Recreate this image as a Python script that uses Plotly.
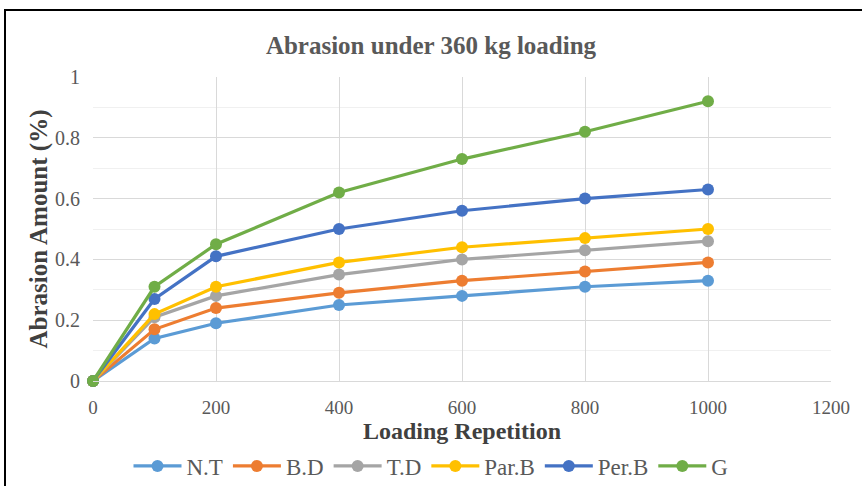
import plotly.graph_objects as go

x_vals = [0, 100, 200, 400, 600, 800, 1000]
series_names = ["N.T", "B.D", "T.D", "Par.B", "Per.B", "G"]
nt = [0, 0.14, 0.19, 0.25, 0.28, 0.31, 0.33]
bd = [0, 0.17, 0.24, 0.29, 0.33, 0.36, 0.39]
td = [0, 0.21, 0.28, 0.35, 0.40, 0.43, 0.46]
parb = [0, 0.22, 0.31, 0.39, 0.44, 0.47, 0.50]
perb = [0, 0.27, 0.41, 0.50, 0.56, 0.60, 0.63]
g = [0, 0.31, 0.45, 0.62, 0.73, 0.82, 0.92]
colors = ["#5B9BD5", "#ED7D31", "#A5A5A5", "#FFC000", "#4472C4", "#70AD47"]

fig = go.Figure()
for name, ys, c in zip(series_names, [nt, bd, td, parb, perb, g], colors):
    fig.add_trace(go.Scatter(x=x_vals, y=ys, name=name, mode="lines+markers",
                             cliponaxis=False,
                             line=dict(color=c, width=3.2), marker=dict(color=c, size=12)))

serif = "Liberation Serif, Times New Roman, serif"
fig.update_layout(
    width=862, height=486,
    margin=dict(l=93, r=31, t=77, b=105, autoexpand=False),
    paper_bgcolor="white", plot_bgcolor="white",
    title=dict(text="<b>Abrasion under 360 kg loading</b>", x=0.5, xanchor="center",
               y=1 - 45 / 486, yanchor="middle",
               font=dict(family=serif, size=25, color="#595959")),
    font=dict(family=serif, color="#595959"),
    xaxis=dict(range=[0, 1200], tickvals=[0, 200, 400, 600, 800, 1000, 1200],
               showgrid=True, gridcolor="#D9D9D9", gridwidth=1,
               showline=True, linecolor="#D9D9D9", zeroline=False, automargin=False,
               tickfont=dict(size=19, color="#595959"), ticks="", ticklabelstandoff=9,
               title=dict(text="<b>Loading Repetition</b>", standoff=4,
                          font=dict(family=serif, size=24, color="#404040"))),
    yaxis=dict(range=[0, 1], tickvals=[0, 0.2, 0.4, 0.6, 0.8, 1],
               ticktext=["0", "0.2", "0.4", "0.6", "0.8", "1"],
               showgrid=True, gridcolor="#D9D9D9", gridwidth=1,
               minor=dict(dtick=0.1, showgrid=True, gridcolor="#F0F0F0", gridwidth=1),
               showline=False, zeroline=False, ticks="", automargin=False,
               ticklabelstandoff=12,
               tickfont=dict(size=20, color="#595959"),
               title=dict(text="<b>Abrasion Amount (%)</b>", standoff=0,
                          font=dict(family=serif, size=25, color="#404040"))),
    legend=dict(orientation="h", x=0.5, xanchor="center", xref="container",
                y=1 - 466 / 486, yanchor="middle", yref="container",
                font=dict(family=serif, size=23, color="#595959"),
                itemwidth=48, tracegroupgap=0),
    showlegend=True,
)
fig.add_shape(type="rect", xref="paper", yref="paper",
              x0=(5 - 93) / 738, x1=(870 - 93) / 738,
              y0=(381 - 495) / 304, y1=(381 - 10) / 304,
              line=dict(color="black", width=2), fillcolor="rgba(0,0,0,0)", layer="below")
fig.write_html("out.html")
